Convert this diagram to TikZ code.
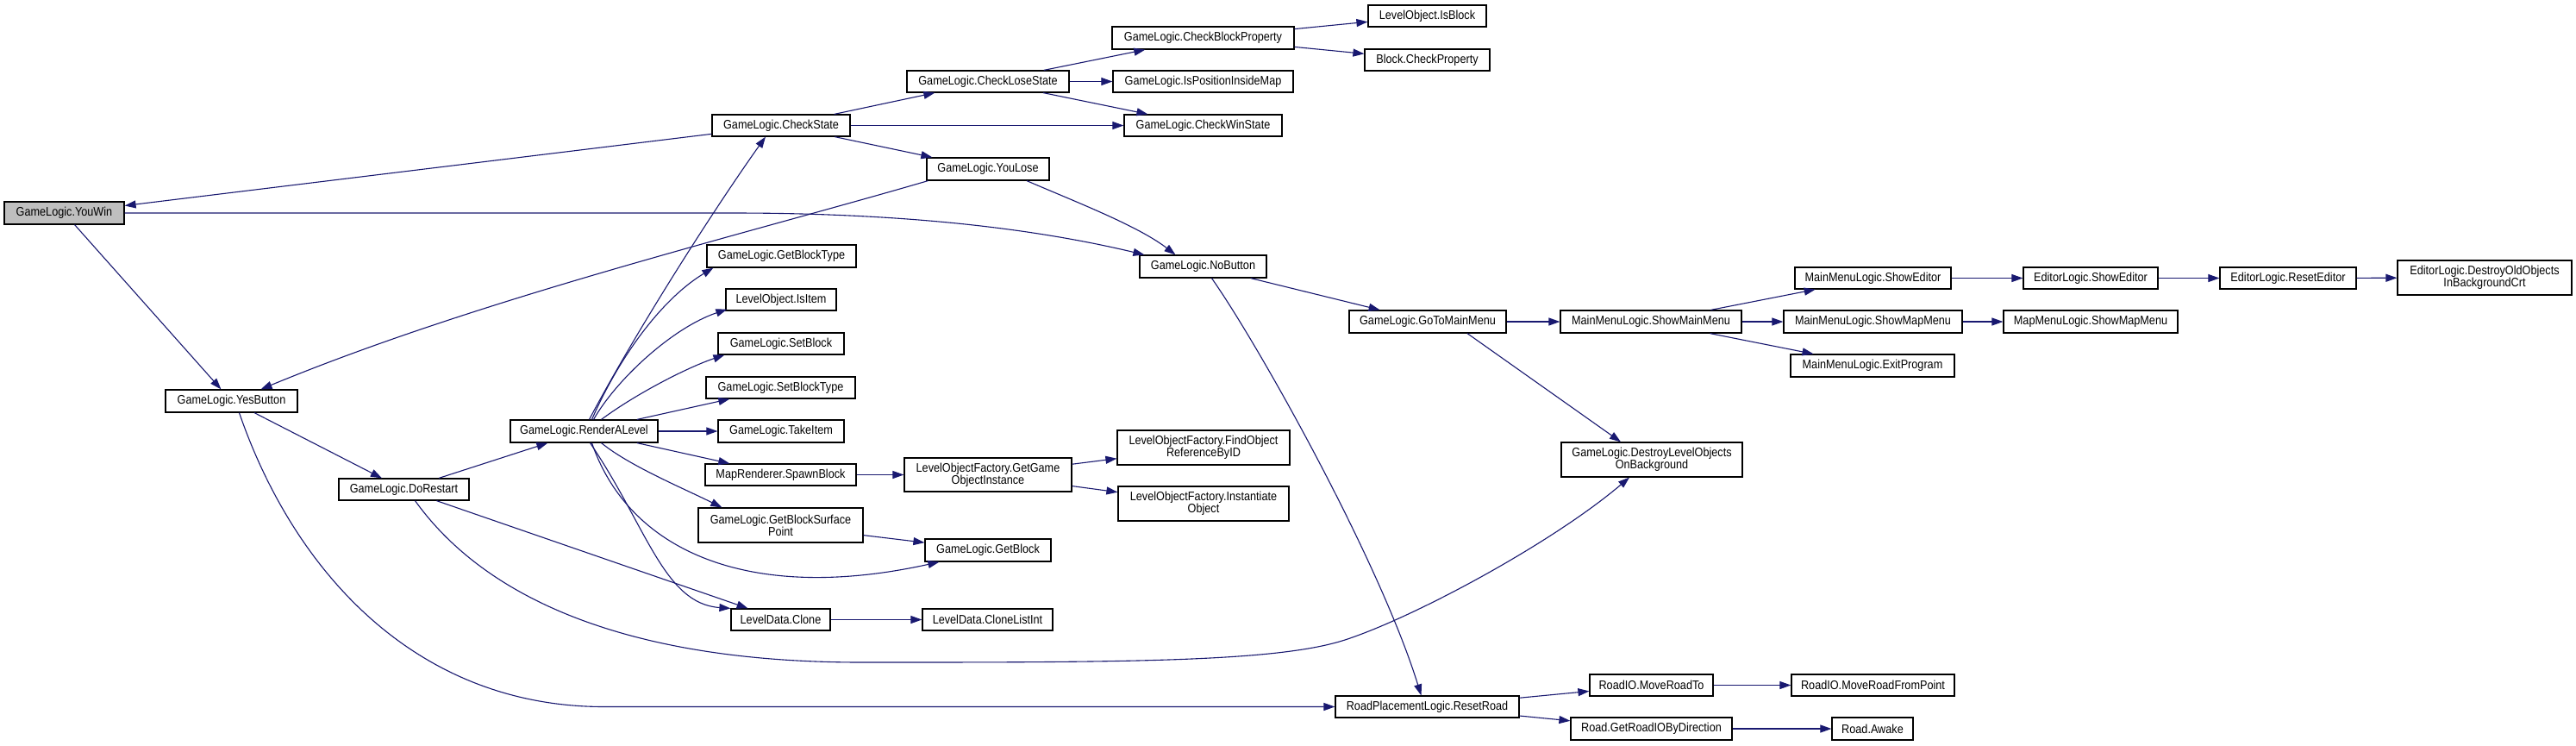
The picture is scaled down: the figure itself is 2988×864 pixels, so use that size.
\documentclass[tikz,border=0pt]{standalone}
\usepackage{fontspec}
\setmainfont{Liberation Sans}[FakeStretch=0.88]
\usetikzlibrary{arrows.meta,calc}
\definecolor{edgecol}{HTML}{191970}
\definecolor{graynode}{HTML}{BFBFBF}
\tikzset{
  box/.style={draw=black, line width=0.6pt, fill=white, inner sep=0pt, align=center,
    font=\fontsize{7.2}{7.15}\selectfont},
  edge/.style={draw=edgecol, line width=0.55pt, -{Triangle[length=6.5pt,width=4.5pt,fill=edgecol]}}
}
\newcommand\bx[7][]{\node[box,#1, minimum width={(#5-#3)*0.5pt}, minimum height={(#6-#4)*0.5pt}] (#2) at ({(#3+#5)/2},{(#4+#6)/2}) {#7};}
\begin{document}
\begin{tikzpicture}[x=0.5pt,y=-0.5pt]
\fill[white] (0,0) rectangle (2988,864);
\useasboundingbox (0,0) rectangle (2988,864);
% nodes
\bx[fill=graynode]{youwin}{5}{234}{144}{260}{GameLogic.YouWin}
\bx{yesbtn}{192}{452}{345}{478}{GameLogic.YesButton}
\bx{dorestart}{393}{555}{544}{580}{GameLogic.DoRestart}
\bx{render}{592}{487}{763}{513}{GameLogic.RenderALevel}
\bx{checkstate}{826}{133}{986}{158}{GameLogic.CheckState}
\bx{checklose}{1052}{82}{1240}{107}{GameLogic.CheckLoseState}
\bx{checkblockprop}{1290}{31}{1501}{57}{GameLogic.CheckBlockProperty}
\bx{isblock}{1587}{6}{1724}{31}{LevelObject.IsBlock}
\bx{blockprop}{1583}{57}{1728}{82}{Block.CheckProperty}
\bx{isposinside}{1291}{82}{1500}{107}{GameLogic.IsPositionInsideMap}
\bx{checkwin}{1304}{133}{1487}{158}{GameLogic.CheckWinState}
\bx{youlose}{1075}{183}{1217}{209}{GameLogic.YouLose}
\bx{nobutton}{1322}{296}{1469}{322}{GameLogic.NoButton}
\bx{getblocktype}{820}{284}{993}{310}{GameLogic.GetBlockType}
\bx{isitem}{842}{335}{970}{360}{LevelObject.IsItem}
\bx{setblock}{833}{386}{979}{411}{GameLogic.SetBlock}
\bx{setblocktype}{819}{437}{992}{462}{GameLogic.SetBlockType}
\bx{takeitem}{833}{487}{979}{513}{GameLogic.TakeItem}
\bx{spawnblock}{818}{538}{993}{563}{MapRenderer.SpawnBlock}
\bx{getgameobj}{1049}{531}{1243}{570}{LevelObjectFactory.GetGame\\ObjectInstance}
\bx{findobj}{1296}{499}{1496}{539}{LevelObjectFactory.FindObject\\ReferenceByID}
\bx{instantiate}{1297}{564}{1495}{604}{LevelObjectFactory.Instantiate\\Object}
\bx{surfpoint}{810}{589}{1001}{629}{GameLogic.GetBlockSurface\\Point}
\bx{getblock}{1073}{625}{1219}{651}{GameLogic.GetBlock}
\bx{clone}{848}{706}{963}{731}{LevelData.Clone}
\bx{clonelist}{1070}{706}{1221}{731}{LevelData.CloneListInt}
\bx{gotomain}{1565}{360}{1747}{386}{GameLogic.GoToMainMenu}
\bx{showmain}{1810}{360}{2020}{386}{MainMenuLogic.ShowMainMenu}
\bx{mmeditor}{2082}{310}{2263}{335}{MainMenuLogic.ShowEditor}
\bx{eleditor}{2347}{310}{2503}{335}{EditorLogic.ShowEditor}
\bx{reseteditor}{2575}{310}{2733}{335}{EditorLogic.ResetEditor}
\bx{destroyold}{2781}{302}{2983}{342}{EditorLogic.DestroyOldObjects\\InBackgroundCrt}
\bx{mmmap}{2069}{360}{2276}{386}{MainMenuLogic.ShowMapMenu}
\bx{mapmap}{2324}{360}{2526}{386}{MapMenuLogic.ShowMapMenu}
\bx{exitprog}{2077}{411}{2267}{437}{MainMenuLogic.ExitProgram}
\bx{destroylevel}{1811}{513}{2021}{553}{GameLogic.DestroyLevelObjects\\OnBackground}
\bx{resetroad}{1549}{807}{1762}{832}{RoadPlacementLogic.ResetRoad}
\bx{moveroadto}{1844}{782}{1987}{807}{RoadIO.MoveRoadTo}
\bx{moveroadfrom}{2078}{782}{2267}{807}{RoadIO.MoveRoadFromPoint}
\bx{getroadio}{1822}{832}{2009}{858}{Road.GetRoadIOByDirection}
\bx{awake}{2125}{832}{2219}{858}{Road.Awake}
% edges
\draw[edge] (checkstate) -- (youwin);
\draw[edge] (youwin.east) -- (850,247) .. controls (1050,247) and (1200,265) .. ($(nobutton.north west)+(6,0)$);
\draw[edge] (youwin) -- (yesbtn);
\draw[edge] ($(youlose.south west)+(2,0)$) .. controls (870,270) and (560,345) .. ($(yesbtn.north)+(34,0)$);
\draw[edge] ($(youlose.south)+(45,0)$) .. controls (1250,235) and (1320,262) .. ($(nobutton.north)+(-32,0)$);
\draw[edge] (checkstate) -- (checklose);
\draw[edge] (checkstate) -- (checkwin);
\draw[edge] (checkstate) -- (youlose);
\draw[edge] (checklose) -- (checkblockprop);
\draw[edge] (checklose) -- (isposinside);
\draw[edge] (checklose) -- (checkwin);
\draw[edge] (checkblockprop) -- (isblock);
\draw[edge] (checkblockprop) -- (blockprop);
\draw[edge] (nobutton) -- (gotomain);
\draw[edge] ($(nobutton.south)+(10,0)$) .. controls (1460,400) and (1600,650) .. ($(resetroad.north)+(-7,0)$);
\draw[edge] (gotomain) -- (showmain);
\draw[edge] ($(gotomain.south)+(46,0)$) -- ($(destroylevel.north)+(-36,0)$);
\draw[edge] (showmain) -- (mmeditor);
\draw[edge] (showmain) -- (mmmap);
\draw[edge] (showmain) -- (exitprog);
\draw[edge] (mmeditor) -- (eleditor);
\draw[edge] (eleditor) -- (reseteditor);
\draw[edge] (reseteditor) -- (destroyold);
\draw[edge] (mmmap) -- (mapmap);
\draw[edge] (yesbtn) -- (dorestart);
\draw[edge] ($(yesbtn.south)+(9,0)$) .. controls (340,660) and (480,819) .. (700,819.5) -- (resetroad.west);
\draw[edge] (dorestart) -- (render);
\draw[edge] (dorestart) -- (clone);
\draw[edge] ($(dorestart.south)+(13,0)$) .. controls (560,690) and (720,768) .. (1000,768) .. controls (1300,768) and (1480,768) .. (1560,742) .. controls (1640,716) and (1800,630) .. ($(destroylevel.south)+(-26,0)$);
\draw[edge] ($(render.north)+(6,0)$) .. controls (740,380) and (830,240) .. ($(checkstate.south)+(-18,0)$);
\draw[edge] ($(render.north)+(9,0)$) .. controls (720,410) and (770,345) .. ($(getblocktype.south west)+(8,0)$);
\draw[edge] ($(render.north)+(11,0)$) .. controls (715,440) and (780,380) .. ($(isitem.south west)+(2,-2)$);
\draw[edge] ($(render.north)+(20,0)$) .. controls (740,455) and (800,425) .. ($(setblock.south west)+(8,0)$);
\draw[edge] (render) -- (setblocktype);
\draw[edge] (render) -- (takeitem);
\draw[edge] (render) -- (spawnblock);
\draw[edge] ($(render.south)+(20,0)$) .. controls (730,540) and (790,565) .. ($(surfpoint.north west)+(28,0)$);
\draw[edge] ($(render.south)+(9,0)$) .. controls (730,640) and (870,700) .. ($(getblock.south west)+(17,0)$);
\draw[edge] ($(render.south)+(7,0)$) .. controls (750,610) and (770,700) .. (clone.north west);
\draw[edge] (spawnblock) -- (getgameobj);
\draw[edge] (getgameobj) -- (findobj);
\draw[edge] (getgameobj) -- (instantiate);
\draw[edge] (surfpoint) -- (getblock);
\draw[edge] (clone) -- (clonelist);
\draw[edge] (resetroad) -- (moveroadto);
\draw[edge] (resetroad) -- (getroadio);
\draw[edge] (moveroadto) -- (moveroadfrom);
\draw[edge] (getroadio) -- (awake);
\end{tikzpicture}
\end{document}
